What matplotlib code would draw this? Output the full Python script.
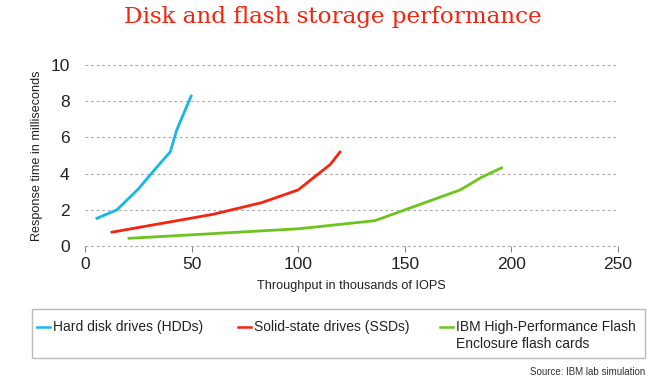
import matplotlib
matplotlib.use("Agg")
import matplotlib.pyplot as plt
from matplotlib.lines import Line2D
from matplotlib.patches import Rectangle

# Data
hdd_x = [5, 15, 25, 34, 40, 43, 50]
hdd_y = [1.5, 2.0, 3.15, 4.4, 5.2, 6.4, 8.35]
ssd_x = [12, 60, 83, 100, 108, 115, 120]
ssd_y = [0.75, 1.75, 2.4, 3.1, 3.85, 4.5, 5.25]
ibm_x = [20, 100, 136, 176, 186, 196]
ibm_y = [0.42, 0.95, 1.4, 3.1, 3.8, 4.35]

series_labels = ["Hard disk drives (HDDs)", "Solid-state drives (SSDs)",
                 "IBM High-Performance Flash\nEnclosure flash cards"]
series_colors = ["#16b6ec", "#f6230e", "#6cc41c"]
x_ticks = [0, 50, 100, 150, 200, 250]
y_ticks = [0, 2, 4, 6, 8, 10]

plt.rcParams['font.family'] = ['Liberation Sans', 'DejaVu Sans']

W, H = 669, 386
fig = plt.figure(figsize=(W / 100, H / 100), dpi=100)
ax = fig.add_axes([85 / W, 1 - 246 / H, (618 - 85) / W, (246 - 65) / H])

for xs, ys, c in zip([hdd_x, ssd_x, ibm_x], [hdd_y, ssd_y, ibm_y], series_colors):
    ax.plot(xs, ys, color=c, lw=2.0, solid_capstyle='butt', zorder=3)

ax.set_xlim(0, 250)
ax.set_ylim(0, 10)
ax.set_xticks(x_ticks)
ax.set_yticks(y_ticks)
ax.set_xticklabels([str(t) for t in x_ticks], fontsize=12.5)
ax.set_yticklabels([str(t) for t in y_ticks], fontsize=12.5)
for s in ax.spines.values():
    s.set_visible(False)
ax.tick_params(axis='y', length=0, pad=11, colors='#222222')
ax.tick_params(axis='x', length=4, width=0.8, color='#888888', pad=4, labelcolor='#222222')
for t in y_ticks:
    ax.axhline(t, color='#aaaaaa', lw=0.8, ls=(0, (2.5, 2.5)), zorder=1, clip_on=False)

ax.set_xlabel("Throughput in thousands of IOPS", fontsize=9.1, color='#222222', labelpad=6)
ax.set_ylabel("Response time in milliseconds", fontsize=9.1, color='#222222', labelpad=5)

fig.text(333 / W, 1 - 17 / H, "Disk and flash storage performance", ha='center', va='center',
         fontsize=16.6, color='#f6230e', family=['DejaVu Serif'])

# Legend box (manual)
fig.patches.append(Rectangle((32 / W, 1 - 358 / H), (645 - 32) / W, (358 - 309) / H,
                             transform=fig.transFigure, facecolor='white',
                             edgecolor='#bbbbbb', lw=1))
handle_x = [37, 238, 440]
for hx, lab, c in zip(handle_x, series_labels, series_colors):
    fig.lines.append(Line2D([hx / W, (hx + 13) / W], [1 - 327 / H, 1 - 327 / H],
                            transform=fig.transFigure, color=c, lw=1.8))
    fig.text((hx + 16) / W, 1 - 320 / H, lab, ha='left', va='top', fontsize=10,
             color='#222222', linespacing=1.25)

fig.text(645 / W, 1 - 372 / H, "Source: IBM lab simulation", ha='right', va='center',
         fontsize=7, color='#333333')

fig.savefig("out.png", dpi=100)
